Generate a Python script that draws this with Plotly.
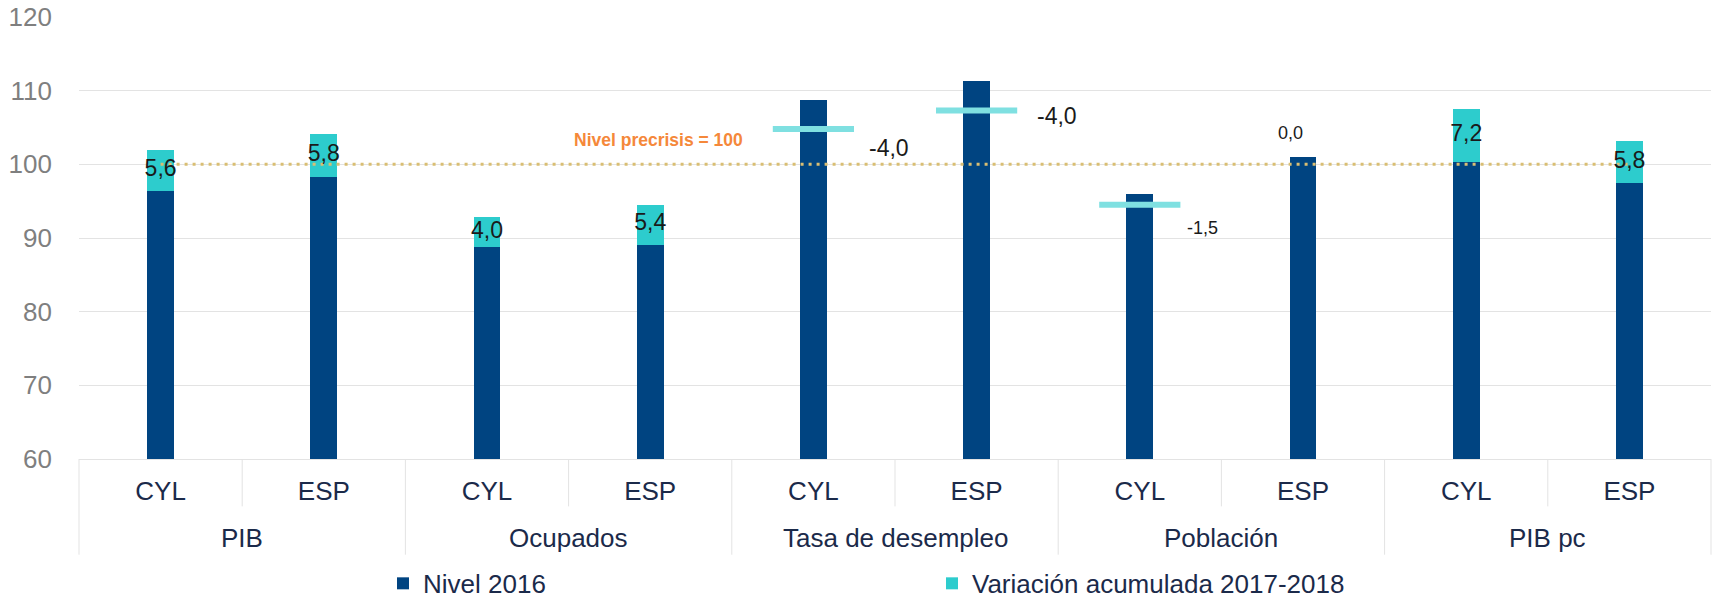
import plotly.graph_objects as go

# ---------------- data ----------------
groups = ["PIB", "Ocupados", "Tasa de desempleo", "Población", "PIB pc"]
regions = ["CYL", "ESP"]
nivel_2016 = [96.4, 98.3, 88.8, 89.1, 108.8, 111.3, 96.0, 101.0, 100.3, 97.4]
variacion = [5.6, 5.8, 4.0, 5.4, -4.0, -4.0, -1.5, 0.0, 7.2, 5.8]
precrisis = 100
precrisis_label = "Nivel precrisis = 100"
y_ticks = [60, 70, 80, 90, 100, 110, 120]
series_names = ["Nivel 2016", "Variación acumulada 2017-2018"]

# ---------------- style ----------------
FONT = "Arial, Liberation Sans, sans-serif"
NAVY = "#004481"
AQUA = "#2DCCCD"
AQUA_LIGHT = "#7FE0E1"
TXT = "#1B2A4A"
GRID = "#E3E3E3"
GOLD = "#D9BE73"
ORANGE = "#F5883A"
# pixel offsets / sizes for labels of non-positive variations (xshift, yshift, size)
neg_label_style = {4: (76, -19, 23), 5: (80, -5, 23), 6: (63, -23, 18), 7: (-13, 24, 18)}

n = len(nivel_2016)
xs = list(range(n))
sub_labels = [r for g in groups for r in regions]


def fmt(v):
    return f"{v:.1f}".replace(".", ",")


fig = go.Figure()
fig.add_bar(x=xs, y=nivel_2016, name=series_names[0], marker=dict(color=NAVY, line=dict(width=0)),
            hoverinfo="skip")
fig.add_bar(x=xs, y=[v if v > 0 else None for v in variacion], name=series_names[1],
            marker=dict(color=AQUA, line=dict(width=0)), hoverinfo="skip")

neg_idx = [i for i in xs if variacion[i] < 0]
fig.add_scatter(x=neg_idx, y=[nivel_2016[i] + variacion[i] for i in neg_idx], mode="markers",
                marker=dict(symbol="line-ew", size=58, line=dict(width=6, color=AQUA_LIGHT)),
                showlegend=False, hoverinfo="skip")

fig.add_scatter(x=xs, y=[precrisis] * n, mode="lines",
                line=dict(color=GOLD, width=3, dash="3px,5px"), showlegend=False, hoverinfo="skip")

pos_idx = [i for i in xs if variacion[i] > 0]
fig.add_scatter(x=pos_idx, y=[nivel_2016[i] + variacion[i] / 2 for i in pos_idx], mode="text",
                text=[fmt(variacion[i]) for i in pos_idx],
                textfont=dict(size=23, color="#1A1A1A", family=FONT), showlegend=False, hoverinfo="skip")

for i in xs:
    if variacion[i] <= 0:
        dx, dy, sz = neg_label_style[i]
        fig.add_annotation(x=i, y=nivel_2016[i] + variacion[i], xref="x", yref="y", text=fmt(variacion[i]),
                           showarrow=False, xshift=dx, yshift=dy,
                           font=dict(size=sz, color="#1A1A1A", family=FONT))

fig.add_annotation(x=3.05, y=precrisis, xref="x", yref="y", text="<b>" + precrisis_label + "</b>",
                   showarrow=False, yshift=24, font=dict(size=17.5, color=ORANGE, family=FONT))

# dividers of the two-level category axis
for k in range(n + 1):
    is_group = k % len(regions) == 0
    fig.add_shape(type="line", xref="paper", yref="paper", x0=k / n, x1=k / n, y0=0,
                  y1=-0.2165 if is_group else -0.1072, line=dict(color=GRID, width=1))

for g, name in enumerate(groups):
    fig.add_annotation(x=g * len(regions) + (len(regions) - 1) / 2, y=-0.1796, xref="x", yref="paper",
                       text=name, showarrow=False, yanchor="middle",
                       font=dict(size=26, color=TXT, family=FONT))

fig.update_layout(
    width=1714, height=601,
    margin=dict(l=79, r=3, t=17, b=142, autoexpand=False),
    plot_bgcolor="white", paper_bgcolor="white",
    barmode="stack", bargap=0.835,
    font=dict(family=FONT, size=26, color=TXT),
    showlegend=True,
    legend=dict(orientation="h", traceorder="normal", x=(383 - 79) / 1632, xanchor="left",
                y=-0.2815, yanchor="middle",
                entrywidth=504, entrywidthmode="pixels", font=dict(size=26, color=TXT, family=FONT),
                bgcolor="rgba(0,0,0,0)"),
    xaxis=dict(range=[-0.5, n - 0.5], tickvals=xs, ticktext=sub_labels, showgrid=False, zeroline=False,
               showline=True, linecolor=GRID, linewidth=1, ticks="",
               tickfont=dict(size=26, color=TXT, family=FONT), ticklabelstandoff=9),
    yaxis=dict(range=[60, 120], tickvals=y_ticks, showgrid=True, gridcolor=GRID, gridwidth=1,
               zeroline=False, showline=False, ticks="",
               tickfont=dict(size=26, color="#7F7F7F", family=FONT), ticklabelstandoff=26),
)

fig.write_html("out.html", config={"displayModeBar": False},
               post_script="document.body.style.margin='0px';")
